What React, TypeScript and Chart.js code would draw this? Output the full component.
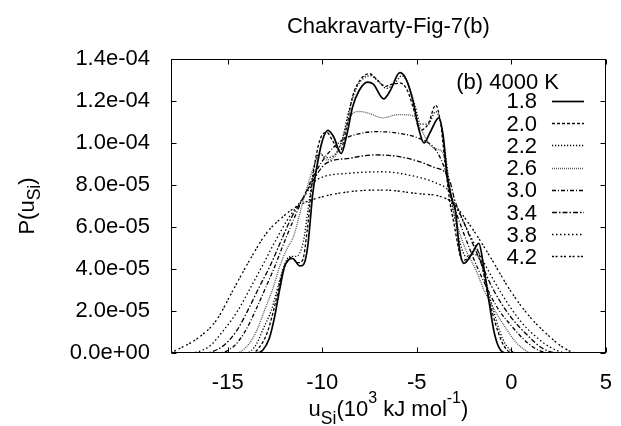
import React, { useEffect, useRef } from "react";
import { Chart, registerables } from "chart.js";

Chart.register(...registerables);

const TITLE = "Chakravarty-Fig-7(b)";
const LEGEND_HEADER = "(b) 4000 K";
const SERIES_LABELS = ["1.8", "2.0", "2.2", "2.6", "3.0", "3.4", "3.8", "4.2"];
const X_TICKS = [-15, -10, -5, 0, 5];
const Y_TICKS = [0, 2e-5, 4e-5, 6e-5, 8e-5, 1e-4, 1.2e-4, 1.4e-4];
const Y_UNIT = 1e-5; // series values below are in units of 1e-5

// [u_Si (10^3 kJ/mol), P (x1e-5)]
const S_18: [number, number][] = [
  [-18, 0], [-13.5, 0], [-13.15, 0.13], [-12.8, 0.7], [-12.52, 1.72], [-12.26, 2.99], [-12.0, 4.1],
  [-11.8, 4.42], [-11.56, 4.5], [-11.2, 4.15], [-11.0, 4.2], [-10.77, 5.06], [-10.5, 7.6], [-10.26, 9.0],
  [-10.0, 10.1], [-9.7, 10.6], [-9.4, 10.3], [-9.0, 9.5], [-8.7, 10.4], [-8.4, 11.7], [-8.05, 12.5],
  [-7.6, 12.9], [-7.3, 12.8], [-6.75, 12.1], [-6.4, 12.5], [-5.9, 13.35], [-5.6, 13.1], [-5.2, 12.0],
  [-4.9, 10.7], [-4.62, 10.0], [-4.3, 10.5], [-3.83, 11.2], [-3.6, 10.3], [-3.39, 8.4], [-3.13, 7.29],
  [-2.96, 6.8], [-2.75, 5.0], [-2.51, 4.27], [-2.1, 4.7], [-1.72, 5.22], [-1.46, 4.1], [-1.19, 2.51],
  [-0.93, 1.08], [-0.67, 0.29], [-0.3, 0], [5, 0],
];
const S_20: [number, number][] = [
  [-18, 0], [-13.7, 0], [-13.3, 0.3], [-12.9, 1.0], [-12.5, 2.3], [-12.15, 3.7], [-11.9, 4.3],
  [-11.65, 4.55], [-11.3, 4.3], [-11.05, 4.4], [-10.8, 5.8], [-10.55, 8.0], [-10.3, 9.5], [-10.0, 10.4],
  [-9.75, 10.5], [-9.45, 10.1], [-9.05, 9.6], [-8.75, 10.6], [-8.4, 12.2], [-8.0, 13.0], [-7.5, 13.3],
  [-7.2, 13.1], [-6.65, 12.7], [-6.3, 12.8], [-5.85, 12.85], [-5.5, 12.5], [-5.1, 11.4], [-4.85, 10.6],
  [-4.4, 10.9], [-4.0, 11.8], [-3.75, 11.0], [-3.5, 9.0], [-3.25, 7.2], [-3.0, 6.0], [-2.8, 5.0],
  [-2.6, 4.4], [-2.2, 4.6], [-1.9, 5.0], [-1.6, 4.4], [-1.3, 3.0], [-1.0, 1.9], [-0.7, 1.0],
  [-0.4, 0.35], [-0.1, 0.05], [0.2, 0], [5, 0],
];
const S_22: [number, number][] = [
  [-18, 0], [-14.0, 0], [-13.5, 0.4], [-13.1, 1.2], [-12.69, 2.04], [-12.3, 3.3], [-12.0, 4.2],
  [-11.7, 4.6], [-11.4, 4.6], [-11.0, 5.3], [-10.7, 7.2], [-10.4, 9.0], [-10.15, 9.5], [-9.8, 9.3],
  [-9.4, 9.4], [-9.0, 10.0], [-8.6, 11.5], [-8.2, 12.6], [-7.8, 13.1], [-7.45, 13.2], [-7.0, 12.9],
  [-6.6, 12.6], [-6.2, 12.8], [-5.8, 13.2], [-5.5, 12.9], [-5.1, 11.8], [-4.8, 10.9], [-4.4, 10.9],
  [-4.0, 11.5], [-3.7, 10.8], [-3.45, 9.2], [-3.2, 7.4], [-2.95, 6.2], [-2.7, 5.2], [-2.4, 4.6],
  [-2.0, 4.7], [-1.7, 4.5], [-1.4, 3.6], [-1.0, 2.2], [-0.6, 1.0], [-0.3, 0.4], [0.1, 0.05], [0.4, 0], [5, 0],
];
const S_26: [number, number][] = [
  [-18, 0], [-14.6, 0], [-14.0, 0.3], [-13.5, 1.0], [-13.05, 2.04], [-12.6, 3.1], [-12.26, 4.1],
  [-11.9, 4.9], [-11.5, 5.6], [-11.2, 6.6], [-10.8, 7.9], [-10.4, 9.0], [-10.1, 9.5], [-9.8, 9.2],
  [-9.4, 9.3], [-9.0, 10.0], [-8.7, 10.9], [-8.4, 11.4], [-8.0, 11.5], [-7.5, 11.4], [-6.8, 11.2],
  [-6.0, 11.35], [-5.2, 11.3], [-4.8, 10.7], [-4.3, 9.9], [-3.9, 9.7], [-3.6, 9.5], [-3.35, 8.5],
  [-3.1, 7.0], [-2.8, 5.9], [-2.4, 4.9], [-1.9, 4.0], [-1.4, 2.9], [-0.8, 1.9], [-0.3, 1.2],
  [0.2, 0.55], [0.7, 0.15], [1.1, 0], [5, 0],
];
const S_30: [number, number][] = [
  [-18, 0], [-15.5, 0], [-14.7, 0.3], [-14.1, 1.0], [-13.52, 2.04], [-13.0, 3.1], [-12.52, 4.1],
  [-12.0, 5.3], [-11.4, 6.6], [-10.9, 7.6], [-10.3, 8.7], [-9.7, 9.5], [-8.92, 10.15], [-8.0, 10.45],
  [-7.16, 10.54], [-5.93, 10.46], [-4.7, 10.15], [-4.0, 9.67], [-3.5, 8.7], [-3.1, 7.2], [-2.6, 5.9],
  [-2.0, 4.5], [-1.4, 3.3], [-0.7, 2.1], [0.0, 1.3], [0.6, 0.7], [1.2, 0.25], [1.7, 0.05], [2.0, 0], [5, 0],
];
const S_34: [number, number][] = [
  [-18, 0], [-16.3, 0], [-15.3, 0.3], [-14.5, 1.1], [-13.93, 2.04], [-13.3, 3.2], [-12.78, 4.1],
  [-12.2, 5.3], [-11.6, 6.5], [-11.0, 7.4], [-10.5, 8.2], [-9.8, 9.03], [-8.57, 9.27], [-7.34, 9.43],
  [-5.93, 9.35], [-4.18, 8.87], [-3.3, 8.32], [-3.0, 7.3], [-2.5, 6.2], [-1.8, 4.7], [-1.0, 3.1],
  [-0.1, 1.8], [0.9, 0.8], [1.6, 0.25], [2.2, 0.03], [2.5, 0], [5, 0],
];
const S_38: [number, number][] = [
  [-18, 0], [-17.2, 0], [-16.0, 0.3], [-15.2, 1.1], [-14.45, 2.04], [-13.8, 3.1], [-13.2, 4.1],
  [-12.5, 5.3], [-11.8, 6.4], [-11.0, 7.4], [-10.3, 8.24], [-8.57, 8.56], [-6.81, 8.63], [-5.05, 8.4],
  [-4.0, 8.1], [-3.3, 7.7], [-3.0, 7.1], [-2.4, 6.0], [-1.5, 4.4], [-0.5, 2.8], [0.5, 1.5], [1.4, 0.7],
  [2.1, 0.25], [2.7, 0.03], [3.0, 0], [5, 0],
];
const S_42: [number, number][] = [
  [-18, 0], [-17.9, 0.05], [-16.5, 0.76], [-15.6, 1.56], [-14.72, 2.99], [-13.84, 4.42], [-12.96, 5.7],
  [-12.08, 6.49], [-11.38, 6.96], [-10.32, 7.36], [-8.57, 7.68], [-6.81, 7.76], [-5.05, 7.6], [-3.3, 7.28],
  [-2.2, 6.1], [-1.2, 4.7], [0, 2.9], [1.0, 1.7], [2.0, 0.8], [2.6, 0.35], [3.2, 0.05], [3.6, 0], [5, 0],
];

const SERIES = [S_18, S_20, S_22, S_26, S_30, S_34, S_38, S_42];

// styles (kept apart from data)
const STYLES = [
  { color: "#000", width: 1.7, dash: [] as number[] },
  { color: "#000", width: 1.3, dash: [3, 2] },
  { color: "#000", width: 1.3, dash: [1.2, 1.8] },
  { color: "#555", width: 1.3, dash: [1, 1] },
  { color: "#000", width: 1.3, dash: [4, 2, 1, 2] },
  { color: "#000", width: 1.3, dash: [5, 2, 1.5, 2] },
  { color: "#000", width: 1.3, dash: [1.5, 2.5] },
  { color: "#000", width: 1.3, dash: [2, 1.5, 2, 3] },
];

const FONT = '"Liberation Sans", Arial, Helvetica, sans-serif';
const FS = 22;

function fmtExp(v: number): string {
  if (Math.abs(v) < 1e-12) return "0.0e+00";
  const s = v.toExponential(1);
  const [m, e] = s.split("e");
  const n = parseInt(e, 10);
  return m + "e" + (n < 0 ? "-" : "+") + String(Math.abs(n)).padStart(2, "0");
}

type Piece = { t: string; size: number; dy: number };

function drawPieces(ctx: CanvasRenderingContext2D, pieces: Piece[], cx: number, baseY: number) {
  let total = 0;
  const widths = pieces.map((p) => {
    ctx.font = `${p.size}px ${FONT}`;
    const w = ctx.measureText(p.t).width;
    total += w;
    return w;
  });
  let x = cx - total / 2;
  ctx.textAlign = "left";
  ctx.textBaseline = "alphabetic";
  pieces.forEach((p, i) => {
    ctx.font = `${p.size}px ${FONT}`;
    ctx.fillText(p.t, x, baseY + p.dy);
    x += widths[i];
  });
}

const decorPlugin = {
  id: "decor",
  afterDatasetsDraw(chart: any) {
    const { ctx, chartArea: ca, scales } = chart;
    const xs = scales.x;
    const ys = scales.y;
    ctx.save();
    // frame
    const L = Math.round(ca.left) + 0.5;
    const R = Math.round(ca.right) - 0.5;
    const T = Math.round(ca.top) + 0.5;
    const B = Math.round(ca.bottom) - 0.5;
    ctx.strokeStyle = "#000";
    ctx.lineWidth = 1;
    ctx.setLineDash([]);
    ctx.strokeRect(L, T, R - L, B - T);
    // inside ticks (mirrored)
    const TL = 5;
    ctx.beginPath();
    X_TICKS.forEach((v) => {
      const px = Math.round(xs.getPixelForValue(v)) + 0.5;
      ctx.moveTo(px, B);
      ctx.lineTo(px, B - TL);
      ctx.moveTo(px, T);
      ctx.lineTo(px, T + TL);
    });
    Y_TICKS.forEach((v) => {
      const py = Math.round(ys.getPixelForValue(v)) + 0.5;
      ctx.moveTo(L, py);
      ctx.lineTo(L + TL, py);
      ctx.moveTo(R, py);
      ctx.lineTo(R - TL, py);
    });
    ctx.stroke();

    ctx.fillStyle = "#000";
    // title
    ctx.font = `${FS}px ${FONT}`;
    ctx.textAlign = "center";
    ctx.textBaseline = "alphabetic";
    ctx.fillText(TITLE, (ca.left + ca.right) / 2, 33);

    // legend
    ctx.textAlign = "right";
    ctx.fillText(LEGEND_HEADER, 559, 89);
    SERIES_LABELS.forEach((lab, i) => {
      const by = 108.3 + i * 22.24;
      ctx.font = `${FS}px ${FONT}`;
      ctx.textAlign = "right";
      ctx.fillStyle = "#000";
      ctx.fillText(lab, 537, by);
      const st = STYLES[i];
      ctx.beginPath();
      ctx.strokeStyle = st.color;
      ctx.lineWidth = st.width;
      ctx.setLineDash(st.dash);
      const ly = Math.round(by - 7.5) + 0.5;
      ctx.moveTo(552, ly);
      ctx.lineTo(584, ly);
      ctx.stroke();
    });
    ctx.setLineDash([]);

    // x axis title
    ctx.fillStyle = "#000";
    drawPieces(
      ctx,
      [
        { t: "u", size: FS, dy: 0 },
        { t: "Si", size: 17.6, dy: 8 },
        { t: "(10", size: FS, dy: 0 },
        { t: "3", size: 16, dy: -13 },
        { t: " kJ mol", size: FS, dy: 0 },
        { t: "-1", size: 16, dy: -13 },
        { t: ")", size: FS, dy: 0 },
      ],
      (ca.left + ca.right) / 2,
      416
    );

    // y axis title (rotated)
    ctx.save();
    ctx.translate(34, (ca.top + ca.bottom) / 2);
    ctx.rotate(-Math.PI / 2);
    drawPieces(
      ctx,
      [
        { t: "P(u", size: FS, dy: 0 },
        { t: "Si", size: 17.6, dy: 6 },
        { t: ")", size: FS, dy: 0 },
      ],
      0,
      0
    );
    ctx.restore();
    ctx.restore();
  },
};

export default function App() {
  const ref = useRef<HTMLCanvasElement>(null);
  useEffect(() => {
    if (!ref.current) return;
    const datasets = SERIES.map((s, i) => ({
      label: SERIES_LABELS[i],
      data: s.map(([x, y]) => ({ x, y: y * Y_UNIT })),
      borderColor: STYLES[i].color,
      borderWidth: STYLES[i].width,
      borderDash: STYLES[i].dash,
      pointRadius: 0,
      fill: false,
      cubicInterpolationMode: "monotone" as const,
    }));
    const chart = new Chart(ref.current, {
      type: "line",
      data: { datasets },
      plugins: [decorPlugin],
      options: {
        animation: false,
        responsive: false,
        devicePixelRatio: 1,
        parsing: true,
        layout: { padding: { top: 59, right: 13, left: 0, bottom: 0 } },
        plugins: {
          legend: { display: false },
          tooltip: { enabled: false },
          title: { display: false },
        },
        scales: {
          x: {
            type: "linear",
            min: -18,
            max: 5,
            grid: { display: false },
            border: { display: false },
            ticks: {
              color: "#000",
              font: { family: FONT, size: FS },
              padding: 9,
              maxRotation: 0,
              autoSkip: false,
              callback: (v: any) => String(v),
            },
            afterBuildTicks: (s: any) => {
              s.ticks = X_TICKS.map((v) => ({ value: v }));
            },
            afterFit: (s: any) => {
              s.height = 73;
            },
          },
          y: {
            type: "linear",
            min: 0,
            max: 1.4e-4,
            grid: { display: false },
            border: { display: false },
            ticks: {
              color: "#000",
              font: { family: FONT, size: FS },
              padding: 13,
              autoSkip: false,
              callback: (v: any) => fmtExp(Number(v)),
            },
            afterBuildTicks: (s: any) => {
              s.ticks = Y_TICKS.map((v) => ({ value: v }));
            },
            afterFit: (s: any) => {
              s.width = 171;
            },
          },
        },
      },
    });
    return () => chart.destroy();
  }, []);
  return (
    <div style={{ position: "fixed", left: 0, top: 0, width: 621, height: 426, background: "#fff" }}>
      <canvas ref={ref} width={621} height={426} style={{ display: "block", width: 621, height: 426 }} />
    </div>
  );
}
